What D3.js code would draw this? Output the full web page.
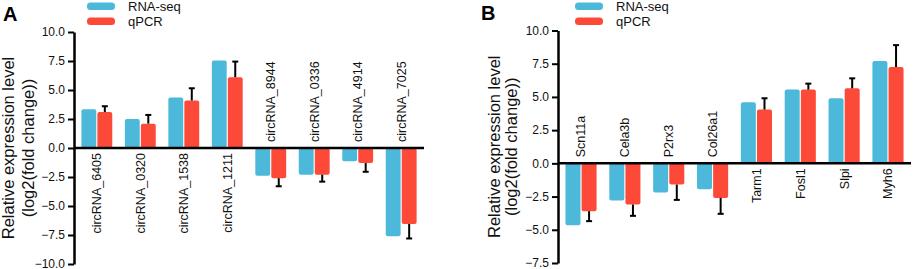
<!DOCTYPE html>
<html>
<head>
<meta charset="utf-8">
<script src="https://d3js.org/d3.v7.min.js"></script>
<style>
  body { margin: 0; background: #fff; }
  svg { font-family: Arial, "Liberation Sans", sans-serif; }
</style>
</head>
<body>
<div id="chart"></div>
<script>
// panel A data
const catsA = ["circRNA_6405", "circRNA_0320", "circRNA_1538", "circRNA_1211",
  "circRNA_8944", "circRNA_0336", "circRNA_4914", "circRNA_7025"];
const rnaA = [3.35, 2.5, 4.35, 7.55, -2.4, -2.3, -1.15, -7.6];
const qpcrA = [3.1, 2.1, 4.1, 6.1, -2.6, -2.3, -1.3, -6.55];
const errA = [0.5, 0.75, 1.05, 1.35, 0.7, 0.6, 0.75, 1.25];
const ticksA = [-10, -7.5, -5, -2.5, 0, 2.5, 5, 7.5, 10];

// panel B data
const catsB = ["Scn11a", "Cela3b", "P2rx3", "Col26a1", "Tarm1", "Fosl1", "Slpi", "Myh6"];
const rnaB = [-4.65, -2.8, -2.2, -1.95, 4.6, 5.55, 4.9, 7.7];
const qpcrB = [-3.6, -3.1, -1.6, -2.6, 4.05, 5.55, 5.65, 7.25];
const errB = [0.75, 0.85, 1.15, 1.2, 0.85, 0.45, 0.75, 1.65];
const ticksB = [-7.5, -5, -2.5, 0, 2.5, 5, 7.5, 10];

const seriesNames = ["RNA-seq", "qPCR"];
const colors = ["#4cb9da", "#fd4a38"];

const width = 913, height = 269;

const svg = d3.select("#chart")
  .append("svg")
  .attr("width", width)
  .attr("height", height);

function drawPanel(opt) {
  const g = svg.append("g");

  const y = d3.scaleLinear()
    .domain(opt.yDomain)
    .range(opt.yRange);

  const x = d3.scaleBand()
    .domain(opt.cats)
    .range(opt.xRange)
    .paddingInner(0.29)
    .paddingOuter(0.17);

  const xs = d3.scaleBand()
    .domain(seriesNames)
    .range([0, x.bandwidth()])
    .paddingInner(0.07);

  const rows = opt.cats.map((c, i) => ({
    cat: c, vals: [opt.rna[i], opt.qpcr[i]], err: opt.err[i]
  }));

  // bars
  const grp = g.selectAll("g.grp")
    .data(rows)
    .join("g")
    .attr("class", "grp")
    .attr("transform", d => `translate(${x(d.cat)},0)`);

  grp.selectAll("rect")
    .data(d => d.vals.map((v, k) => ({ v, k })))
    .join("rect")
    .attr("x", d => xs(seriesNames[d.k]))
    .attr("width", xs.bandwidth())
    .attr("y", d => Math.min(y(d.v), y(0)))
    .attr("height", d => Math.abs(y(d.v) - y(0)))
    .attr("rx", 2)
    .attr("fill", d => colors[d.k]);

  // error bars on qPCR
  const eb = grp.append("g")
    .attr("stroke", "#000")
    .attr("stroke-width", 2);
  const cx = xs("qPCR") + xs.bandwidth() / 2;
  eb.append("line")
    .attr("x1", cx).attr("x2", cx)
    .attr("y1", d => y(d.vals[1]))
    .attr("y2", d => y(d.vals[1] + Math.sign(d.vals[1]) * d.err));
  eb.append("line")
    .attr("x1", cx - 3).attr("x2", cx + 3)
    .attr("y1", d => y(d.vals[1] + Math.sign(d.vals[1]) * d.err))
    .attr("y2", d => y(d.vals[1] + Math.sign(d.vals[1]) * d.err));

  // y axis
  const yAxis = g.append("g")
    .attr("transform", `translate(${opt.xRange[0]},0)`)
    .call(d3.axisLeft(y).tickValues(opt.ticks).tickFormat(d3.format(".1f"))
      .tickSize(6).tickSizeOuter(0).tickPadding(3));
  yAxis.select(".domain").attr("stroke-width", 2.5);
  yAxis.selectAll(".tick line").attr("stroke-width", 2);
  yAxis.selectAll(".tick text")
    .attr("font-size", 12)
    .attr("font-family", "Arial, 'Liberation Sans', sans-serif")
    .attr("fill", "#111");

  // zero line
  g.append("line")
    .attr("x1", opt.xRange[0]).attr("x2", opt.xRange[1])
    .attr("y1", y(0)).attr("y2", y(0))
    .attr("stroke", "#000")
    .attr("stroke-width", 2.5);

  // category labels
  g.selectAll("text.cat")
    .data(rows)
    .join("text")
    .attr("class", "cat")
    .attr("font-size", 12.5)
    .attr("fill", "#111")
    .attr("dy", "0.35em")
    .attr("text-anchor", d => d3.max(d.vals) > 0 ? "end" : "start")
    .attr("transform", d => {
      const ty = d3.max(d.vals) > 0 ? y(0) + 5 : y(0) - 6;
      return `translate(${x(d.cat) + x.bandwidth() / 2},${ty}) rotate(-90)`;
    })
    .text(d => d.cat);

  // y title
  const yc = (opt.yRange[0] + opt.yRange[1]) / 2;
  const t = g.append("text")
    .attr("font-size", 16.5)
    .attr("fill", "#111")
    .attr("text-anchor", "middle")
    .attr("transform", `translate(0,${yc}) rotate(-90)`);
  t.append("tspan").attr("x", 0).attr("y", opt.titleX[0]).text("Relative expression level");
  t.append("tspan").attr("x", 0).attr("y", opt.titleX[1]).text("(log2(fold change))");

  // legend
  const lg = g.append("g")
    .attr("transform", `translate(${opt.legend[0]},${opt.legend[1]})`);
  seriesNames.forEach((s, k) => {
    lg.append("rect")
      .attr("x", 0).attr("y", k * 15)
      .attr("width", 28).attr("height", 7.5)
      .attr("rx", 3.5)
      .attr("fill", colors[k]);
    lg.append("text")
      .attr("x", 41).attr("y", k * 15 + 8.5)
      .attr("font-size", 13)
      .attr("fill", "#111")
      .text(s);
  });

  // panel letter
  g.append("text")
    .attr("x", opt.letter[0]).attr("y", opt.letter[1])
    .attr("font-size", 20)
    .attr("font-weight", "bold")
    .attr("fill", "#000")
    .text(opt.label);
}

drawPanel({
  cats: catsA, rna: rnaA, qpcr: qpcrA, err: errA, ticks: ticksA,
  yDomain: [-10, 10], yRange: [264, 32], xRange: [74, 424],
  titleX: [13.5, 34], legend: [87, 2.5], letter: [3, 21], label: "A"
});

drawPanel({
  cats: catsB, rna: rnaB, qpcr: qpcrB, err: errB, ticks: ticksB,
  yDomain: [-7.5, 10], yRange: [263, 30.5], xRange: [558, 911],
  titleX: [500, 517], legend: [575, 2.5], letter: [481, 20], label: "B"
});
</script>
</body>
</html>
